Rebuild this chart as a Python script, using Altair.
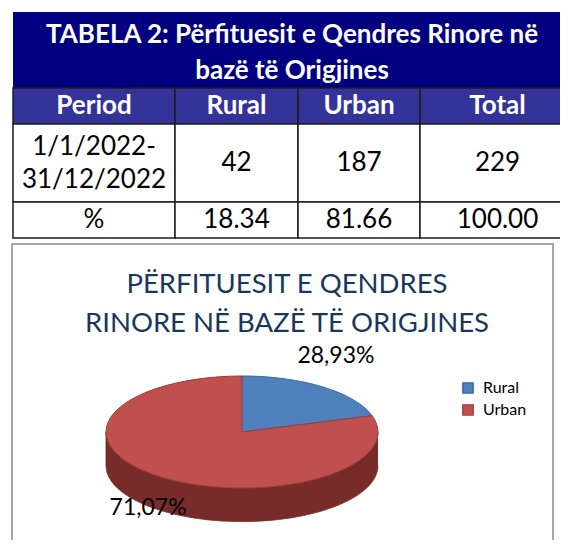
import altair as alt
import pandas as pd

# ---------------- table data ----------------
table_title = "TABELA 2: Përfituesit e Qendres Rinore në\nbazë të Origjines"
columns = ["Period", "Rural", "Urban", "Total"]
period = "1/1/2022-\n31/12/2022"
counts = [42, 187, 229]
percents = [18.34, 81.66, 100.00]

# ---------------- pie data ----------------
chart_title = "PËRFITUESIT E QENDRES\nRINORE NË BAZË TË ORIGJINES"
categories = ["Rural", "Urban"]
slice_share = [20.3, 79.7]          # angular share as drawn in the picture
slice_labels = ["28,93%", "71,07%"]  # labels as printed on the picture

# ---------------- styles ----------------
top_colors = ["#4F81BD", "#C0504D"]
edge_colors = ["#3A6699", "#9E3B38"]
side_colors = ["#2C4D75", "#772C2A"]
FONT = "Lato"

# ---------------- build table records ----------------
cells = [{"text": table_title, "r0": 0, "r1": 1, "c0": 0, "c1": 4, "kind": "title"}]
for i, h in enumerate(columns):
    cells.append({"text": h, "r0": 1, "r1": 2, "c0": i, "c1": i + 1, "kind": "header"})
row2 = [period] + [str(v) for v in counts]
row3 = ["%"] + [f"{v:.2f}" for v in percents]
for rr, row in ((2, row2), (3, row3)):
    for i, t in enumerate(row):
        cells.append({"text": t, "r0": rr, "r1": rr + 1, "c0": i, "c1": i + 1, "kind": "body"})
tdf = pd.DataFrame(cells)
tdf["cm"] = (tdf["c0"] + tdf["c1"]) / 2
tdf["rm"] = (tdf["r0"] + tdf["r1"]) / 2
tdf["nlines"] = tdf["text"].str.count("\n") + 1

tx = alt.Scale(domain=[0, 1, 2, 3, 4], range=[5, 167, 290, 412, 567], zero=False, nice=False)
ty = alt.Scale(domain=[0, 1, 2, 3, 4], range=[4, 80, 116, 194, 230], zero=False, nice=False)

tbase = alt.Chart(tdf)

title_band = tbase.transform_filter("datum.kind == 'title'").mark_rect(fill="#000080").encode(
    x=alt.X("c0:Q", scale=tx, axis=None), x2="c1:Q",
    y=alt.Y("r0:Q", scale=ty, axis=None), y2="r1:Q",
)
grid = tbase.transform_filter("datum.kind != 'title'").mark_rect(stroke="#1c1c1c", strokeWidth=1.5).encode(
    x=alt.X("c0:Q", scale=tx, axis=None), x2="c1:Q",
    y=alt.Y("r0:Q", scale=ty, axis=None), y2="r1:Q",
    fill=alt.Fill("kind:N", scale=alt.Scale(domain=["header", "body"], range=["#333399", "#FFFFFF"]), legend=None),
)
title_txt = tbase.transform_filter("datum.kind == 'title'").mark_text(
    font=FONT, fontSize=26, fontWeight="bold", color="white", lineBreak="\n", lineHeight=36, dx=-6, dy=-15
).encode(x=alt.X("cm:Q", scale=tx, axis=None), y=alt.Y("rm:Q", scale=ty, axis=None), text="text:N")
head_txt = tbase.transform_filter("datum.kind == 'header'").mark_text(
    font=FONT, fontSize=26, fontWeight="bold", color="white"
).encode(x=alt.X("cm:Q", scale=tx, axis=None), y=alt.Y("rm:Q", scale=ty, axis=None), text="text:N")
body_single = tbase.transform_filter("datum.kind == 'body' && datum.nlines == 1").mark_text(
    font=FONT, fontSize=26, color="black"
).encode(x=alt.X("cm:Q", scale=tx, axis=None), y=alt.Y("rm:Q", scale=ty, axis=None), text="text:N")
body_multi = tbase.transform_filter("datum.kind == 'body' && datum.nlines > 1").mark_text(
    font=FONT, fontSize=26, color="black", lineBreak="\n", lineHeight=33, dy=-16
).encode(x=alt.X("cm:Q", scale=tx, axis=None), y=alt.Y("rm:Q", scale=ty, axis=None), text="text:N")

# ---------------- pie ----------------
pie_df = pd.DataFrame({"idx": list(range(len(categories))), "cat": categories,
                       "share": slice_share, "label": slice_labels})
px = alt.Scale(domain=[-1, 1], range=[98, 370], zero=False, nice=False)
py = alt.Scale(domain=[-1, 1], range=[480, 368], zero=False, nice=False)
DEPTH = 0.6  # side wall height in units of the vertical radius

pbase = alt.Chart(pie_df).transform_window(
    cum="sum(share)", sort=[alt.SortField("idx")], frame=[None, 0]
).transform_joinaggregate(total="sum(share)").transform_calculate(
    a1="2*PI*datum.cum/datum.total",
    a0="2*PI*(datum.cum - datum.share)/datum.total",
)

side = pbase.transform_calculate(
    s0="max(datum.a0, PI/2)", s1="min(datum.a1, 3*PI/2)"
).transform_filter("datum.s1 > datum.s0").transform_calculate(
    k="sequence(0, 122)"
).transform_flatten(["k"]).transform_calculate(
    t="datum.k <= 60 ? datum.k/60 : (121 - datum.k)/60",
).transform_calculate(
    ang="datum.s0 + (datum.s1 - datum.s0) * datum.t",
).transform_calculate(
    ux="sin(datum.ang)",
    uy=f"cos(datum.ang) - (datum.k > 60 ? {DEPTH} : 0)",
).mark_line(strokeWidth=0.8, interpolate="linear").encode(
    x=alt.X("ux:Q", scale=px, axis=None),
    y=alt.Y("uy:Q", scale=py, axis=None),
    order="k:Q",
    detail="cat:N",
    fill=alt.Fill("cat:N", scale=alt.Scale(domain=categories, range=side_colors), legend=None),
    stroke=alt.Stroke("cat:N", scale=alt.Scale(domain=categories, range=side_colors), legend=None),
)

legend = alt.Legend(orient="none", legendX=452, legendY=372, title=None, symbolType="square",
                    symbolSize=110, labelFontSize=16, labelFont=FONT, labelColor="black",
                    padding=0, rowPadding=6, labelOffset=7, symbolStrokeWidth=1.2)

top = pbase.transform_calculate(
    k="sequence(-1, 62)"
).transform_flatten(["k"]).transform_calculate(
    ang="datum.a0 + (datum.a1 - datum.a0) * min(max(datum.k, 0), 60) / 60",
).transform_calculate(
    ux="(datum.k < 0 || datum.k > 60) ? 0 : sin(datum.ang)",
    uy="(datum.k < 0 || datum.k > 60) ? 0 : cos(datum.ang)",
).mark_line(strokeWidth=1, interpolate="linear").encode(
    x=alt.X("ux:Q", scale=px, axis=None),
    y=alt.Y("uy:Q", scale=py, axis=None),
    order="k:Q",
    detail="cat:N",
    fill=alt.Fill("cat:N", scale=alt.Scale(domain=categories, range=top_colors), legend=legend),
    stroke=alt.Stroke("cat:N", scale=alt.Scale(domain=categories, range=edge_colors), legend=legend),
)

labels = pbase.transform_calculate(
    mid="(datum.a0 + datum.a1)/2",
).transform_calculate(
    lx="1.16*sin(datum.mid)", ly="1.69*cos(datum.mid)",
).mark_text(font=FONT, fontSize=23, color="black").encode(
    x=alt.X("lx:Q", scale=px, axis=None),
    y=alt.Y("ly:Q", scale=py, axis=None),
    text="label:N",
)

frame = alt.Chart(pd.DataFrame({"a": [0]})).mark_rect(fill="white", stroke="#A6A6A6", strokeWidth=2).encode(
    x=alt.value(4), x2=alt.value(545), y=alt.value(236), y2=alt.value(620)
)
ctitle = alt.Chart(pd.DataFrame({"t": [chart_title]})).mark_text(
    font=FONT, fontSize=27.5, color="#17375E", lineBreak="\n", lineHeight=39, dy=-17
).encode(text="t:N", x=alt.value(279), y=alt.value(294))

chart = alt.layer(
    frame, ctitle, side, top, labels, title_band, grid, title_txt, head_txt, body_single, body_multi
).resolve_scale(
    x="independent", y="independent", fill="independent", stroke="independent"
).properties(
    width=552, height=532, padding=0, autosize=alt.AutoSizeParams(type="none"),
    background="white",
).configure_view(stroke=None)

chart.save("out.html", embed_options={"renderer": "svg", "actions": False})
